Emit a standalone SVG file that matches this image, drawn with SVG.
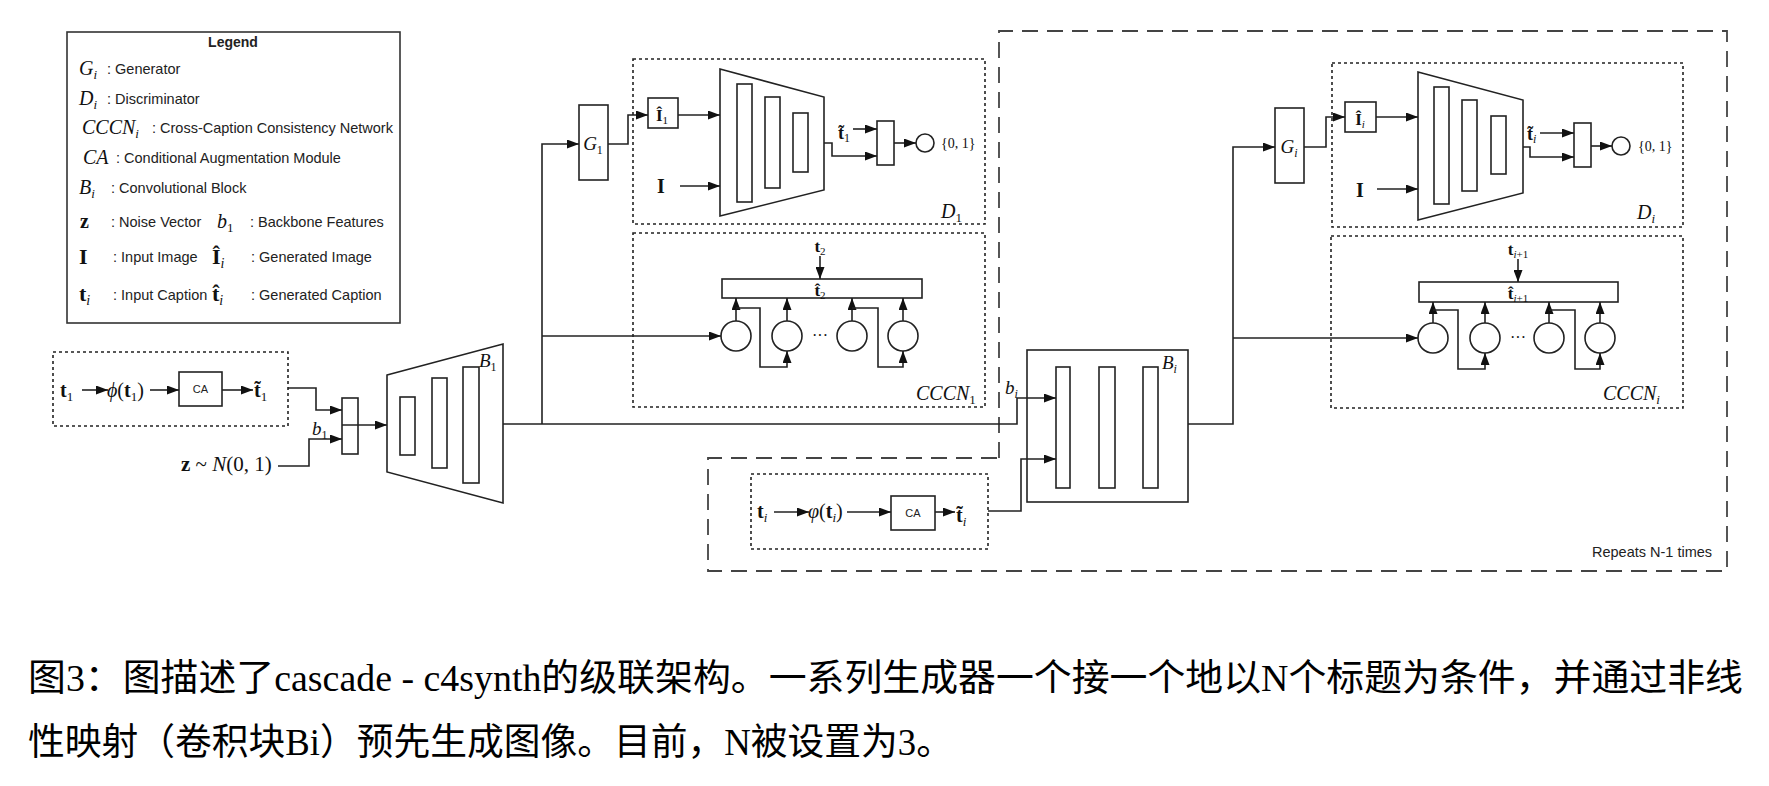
<svg xmlns="http://www.w3.org/2000/svg" width="1769" height="786" viewBox="0 0 1769 786">
<style>
.ln{fill:none;stroke:#222;stroke-width:1.6}
.box{fill:#fff;stroke:#222;stroke-width:1.6}
.dot{fill:none;stroke:#222;stroke-width:1.6;stroke-dasharray:3 3}
.dash{fill:none;stroke:#444;stroke-width:1.8;stroke-dasharray:16 9}
.circ{fill:#fff;stroke:#222;stroke-width:1.6}
.m{font-family:"Liberation Serif","DejaVu Serif",serif;fill:#111}
.it{font-style:italic}
.b{font-weight:bold}
.s{font-family:"Liberation Sans",Arial,sans-serif;fill:#222}
.lg{font-size:14.5px}
.cap{font-family:"Liberation Serif","Noto Sans CJK SC",serif;fill:#000;font-size:37px}
</style>
<defs>
<marker id="ah" viewBox="0 0 12 9" refX="12" refY="4.5" markerWidth="12" markerHeight="9" markerUnits="userSpaceOnUse" orient="auto">
<path d="M0,0 L12,4.5 L0,9 z" fill="#111"/>
</marker>
</defs>
<rect x="0" y="0" width="1769" height="786" fill="#fff"/>

<g id="legend">
<rect x="67" y="32" width="333" height="291" fill="#fff" stroke="#333" stroke-width="1.6"/>
<text class="s b" x="233" y="47" font-size="14" text-anchor="middle" fill="#111">Legend</text>
<text class="m it" x="79" y="75" font-size="20">G<tspan font-size="13" dy="4">i</tspan></text>
<text class="s lg" x="107" y="74">: Generator</text>
<text class="m it" x="79" y="105" font-size="20">D<tspan font-size="13" dy="4">i</tspan></text>
<text class="s lg" x="107" y="104">: Discriminator</text>
<text class="m it" x="82" y="134" font-size="20">CCCN<tspan font-size="13" dy="4">i</tspan></text>
<text class="s lg" x="152" y="133">: Cross-Caption Consistency Network</text>
<text class="m it" x="83" y="164" font-size="20">CA</text>
<text class="s lg" x="116" y="163">: Conditional Augmentation Module</text>
<text class="m it" x="79" y="194" font-size="20">B<tspan font-size="13" dy="4">i</tspan></text>
<text class="s lg" x="111" y="193">: Convolutional Block</text>
<text class="m b" x="80" y="228" font-size="20">z</text>
<text class="s lg" x="111" y="227">: Noise Vector</text>
<text class="m it" x="217" y="228" font-size="20">b<tspan font-style="normal" font-size="13" dy="4">1</tspan></text>
<text class="s lg" x="250" y="227">: Backbone Features</text>
<text class="m b" x="79" y="264" font-size="22">I</text>
<text class="s lg" x="113" y="262">: Input Image</text>
<text class="m b" x="212" y="264" font-size="22">Î<tspan font-weight="normal" font-style="italic" font-size="14" dy="4">i</tspan></text>
<text class="s lg" x="251" y="262">: Generated Image</text>
<text class="m b" x="79" y="301" font-size="22">t<tspan font-weight="normal" font-style="italic" font-size="14" dy="4">i</tspan></text>
<text class="s lg" x="113" y="300">: Input Caption</text>
<text class="m b" x="212" y="301" font-size="22">t&#x302;<tspan font-weight="normal" font-style="italic" font-size="14" dy="4">i</tspan></text>
<text class="s lg" x="251" y="300">: Generated Caption</text>
</g>

<g id="input-t1">
<rect class="dot" x="53" y="352" width="235" height="74"/>
<text class="m b" x="60" y="397" font-size="20">t<tspan font-weight="normal" font-size="13" dy="4">1</tspan></text>
<text class="m" x="107" y="397" font-size="20"><tspan font-style="italic">ϕ</tspan>(<tspan font-weight="bold">t</tspan><tspan font-size="13" dy="4">1</tspan><tspan dy="-4">)</tspan></text>
<rect class="box" x="179" y="372" width="43" height="34"/>
<text class="s" x="200.5" y="393" font-size="11" text-anchor="middle">CA</text>
<text class="m b" x="254" y="397" font-size="20">t&#x303;<tspan font-weight="normal" font-size="13" dy="4">1</tspan></text>
</g>

<g id="noise-z">
<text class="m" x="181" y="471" font-size="21"><tspan font-weight="bold">z</tspan> ~ <tspan font-style="italic">N</tspan>(0, 1)</text>
<text class="m it" x="312" y="435" font-size="19">b<tspan font-style="normal" font-size="12" dy="4">1</tspan></text>
</g>

<g id="concat1">
<rect class="box" x="342" y="398" width="16" height="56"/>
</g>

<g id="B1">
<polygon class="box" points="387,375 503,344 503,503 387,472"/>
<rect class="box" x="400" y="397" width="15" height="58"/>
<rect class="box" x="432" y="378" width="15" height="90"/>
<rect class="box" x="463" y="367" width="16" height="116"/>
<text class="m it" x="479" y="367" font-size="19">B<tspan font-style="normal" font-size="12" dy="4">1</tspan></text>
</g>

<g id="G1">
<rect class="box" x="579" y="105" width="29" height="75"/>
<text class="m it" x="593" y="150" font-size="19" text-anchor="middle">G<tspan font-style="normal" font-size="12" dy="4">1</tspan></text>
</g>

<g id="D1">
<rect class="dot" x="633" y="59" width="352" height="165"/>
<rect class="box" x="648" y="98" width="30" height="30"/>
<text class="m b" x="662" y="121" font-size="17" text-anchor="middle">Î<tspan font-weight="normal" font-size="11" dy="3">1</tspan></text>
<text class="m b" x="657" y="193" font-size="20">I</text>
<polygon class="box" points="720,69 824,97 824,190 720,216"/>
<rect class="box" x="737" y="84" width="15" height="118"/>
<rect class="box" x="765" y="97" width="15" height="91"/>
<rect class="box" x="793" y="113" width="15" height="59"/>
<text class="m b" x="838" y="139" font-size="18">t&#x303;<tspan font-weight="normal" font-size="12" dy="3">1</tspan></text>
<rect class="box" x="877" y="121" width="17" height="44"/>
<circle class="circ" cx="925" cy="143" r="9"/>
<text class="m" x="941" y="148" font-size="14" fill="#444">{0, 1}</text>
<text class="m it" x="941" y="218" font-size="20">D<tspan font-style="normal" font-size="13" dy="4">1</tspan></text>
</g>

<g id="CCCN1">
<rect class="dot" x="633" y="233" width="352" height="174"/>
<text class="m b" x="820" y="252" font-size="17" text-anchor="middle">t<tspan font-weight="normal" font-size="11" dy="3">2</tspan></text>
<rect class="box" x="722" y="279" width="200" height="19"/>
<text class="m b" x="820" y="296" font-size="17" text-anchor="middle">t&#x302;<tspan font-weight="normal" font-size="11" dy="3">2</tspan></text>
<circle class="circ" cx="736" cy="336" r="15"/>
<circle class="circ" cx="787" cy="336" r="15"/>
<circle class="circ" cx="852" cy="336" r="15"/>
<circle class="circ" cx="903" cy="336" r="15"/>
<text class="m" x="820" y="341" font-size="16" text-anchor="middle">···</text>
<text class="m it" x="916" y="400" font-size="20">CCCN<tspan font-style="normal" font-size="13" dy="4">1</tspan></text>
</g>

<g id="repeat-block">
<path class="dash" d="M999,458 L999,31 L1727,31 L1727,571 L708,571 L708,458 Z"/>
<text class="s" x="1592" y="557" font-size="14.5" fill="#333">Repeats N-1 times</text>
</g>

<g id="input-ti">
<rect class="dot" x="751" y="474" width="237" height="75"/>
<text class="m b" x="757" y="518" font-size="20">t<tspan font-weight="normal" font-style="italic" font-size="13" dy="4">i</tspan></text>
<text class="m" x="808" y="518" font-size="20"><tspan font-style="italic">φ</tspan>(<tspan font-weight="bold">t</tspan><tspan font-style="italic" font-size="13" dy="4">i</tspan><tspan dy="-4">)</tspan></text>
<rect class="box" x="891" y="496" width="44" height="34"/>
<text class="s" x="913" y="517" font-size="11" text-anchor="middle">CA</text>
<text class="m b" x="956" y="522" font-size="20">t&#x303;<tspan font-weight="normal" font-style="italic" font-size="13" dy="4">i</tspan></text>
</g>

<g id="Bi">
<rect class="box" x="1027" y="350" width="161" height="152"/>
<rect class="box" x="1056" y="367" width="14" height="121"/>
<rect class="box" x="1099" y="367" width="16" height="121"/>
<rect class="box" x="1143" y="367" width="15" height="121"/>
<text class="m it" x="1162" y="369" font-size="19">B<tspan font-size="12" dy="4">i</tspan></text>
<text class="m it" x="1005" y="394" font-size="19">b<tspan font-size="12" dy="4">i</tspan></text>
</g>

<g id="Gi">
<rect class="box" x="1275" y="108" width="29" height="75"/>
<text class="m it" x="1289" y="153" font-size="19" text-anchor="middle">G<tspan font-size="12" dy="4">i</tspan></text>
</g>

<g id="Di">
<rect class="dot" x="1332" y="63" width="351" height="164"/>
<rect class="box" x="1345" y="102" width="31" height="30"/>
<text class="m b" x="1360" y="125" font-size="17" text-anchor="middle">Î<tspan font-weight="normal" font-style="italic" font-size="11" dy="3">i</tspan></text>
<text class="m b" x="1356" y="197" font-size="20">I</text>
<polygon class="box" points="1418,72 1523,100 1523,193 1418,220"/>
<rect class="box" x="1434" y="87" width="15" height="117"/>
<rect class="box" x="1462" y="100" width="15" height="91"/>
<rect class="box" x="1491" y="116" width="15" height="58"/>
<text class="m b" x="1527" y="140" font-size="18">t&#x303;<tspan font-weight="normal" font-style="italic" font-size="12" dy="3">i</tspan></text>
<rect class="box" x="1574" y="123" width="17" height="44"/>
<circle class="circ" cx="1621" cy="146" r="9"/>
<text class="m" x="1638" y="151" font-size="14" fill="#444">{0, 1}</text>
<text class="m it" x="1637" y="219" font-size="20">D<tspan font-size="13" dy="4">i</tspan></text>
</g>

<g id="CCCNi">
<rect class="dot" x="1331" y="236" width="352" height="172"/>
<text class="m b" x="1518" y="255" font-size="17" text-anchor="middle">t<tspan font-weight="normal" font-size="11" dy="3"><tspan font-style="italic">i</tspan>+1</tspan></text>
<rect class="box" x="1419" y="282" width="199" height="20"/>
<text class="m b" x="1518" y="299" font-size="17" text-anchor="middle">t&#x302;<tspan font-weight="normal" font-size="11" dy="3"><tspan font-style="italic">i</tspan>+1</tspan></text>
<circle class="circ" cx="1433" cy="338" r="15"/>
<circle class="circ" cx="1485" cy="338" r="15"/>
<circle class="circ" cx="1549" cy="338" r="15"/>
<circle class="circ" cx="1600" cy="338" r="15"/>
<text class="m" x="1518" y="343" font-size="16" text-anchor="middle">···</text>
<text class="m it" x="1603" y="400" font-size="20">CCCN<tspan font-size="13" dy="4">i</tspan></text>
</g>

<g id="connectors" class="ln">
<path d="M82,390 L108,390" marker-end="url(#ah)"/>
<path d="M150,390 L179,390" marker-end="url(#ah)"/>
<path d="M222,390 L253,390" marker-end="url(#ah)"/>
<path d="M288,388 L316,388 L316,410 L342,410" marker-end="url(#ah)"/>
<path d="M278,466 L309,466 L309,439 L342,439" marker-end="url(#ah)"/>
<path d="M342,425 L387,425" marker-end="url(#ah)"/>
<path d="M503,424 L1017,424 L1017,398 L1056,398" marker-end="url(#ah)"/>
<path d="M542,424 L542,144 L579,144" marker-end="url(#ah)"/>
<path d="M542,336 L721,336" marker-end="url(#ah)"/>
<path d="M608,144 L628,144 L628,115 L648,115" marker-end="url(#ah)"/>
<path d="M678,115 L720,115" marker-end="url(#ah)"/>
<path d="M680,186 L720,186" marker-end="url(#ah)"/>
<path d="M853,129 L877,129" marker-end="url(#ah)"/>
<path d="M824,143 L832,143 L832,156 L877,156" marker-end="url(#ah)"/>
<path d="M894,143 L916,143" marker-end="url(#ah)"/>
<path d="M820,256 L820,279" marker-end="url(#ah)"/>
<path d="M736,321 L736,298" marker-end="url(#ah)"/>
<path d="M787,321 L787,298" marker-end="url(#ah)"/>
<path d="M852,321 L852,298" marker-end="url(#ah)"/>
<path d="M903,321 L903,298" marker-end="url(#ah)"/>
<path d="M736,308 L760,308 L760,367 L787,367 L787,351" marker-end="url(#ah)"/>
<path d="M852,308 L878,308 L878,367 L903,367 L903,351" marker-end="url(#ah)"/>
<path d="M774,512 L809,512" marker-end="url(#ah)"/>
<path d="M847,512 L891,512" marker-end="url(#ah)"/>
<path d="M935,512 L955,512" marker-end="url(#ah)"/>
<path d="M988,511 L1021,511 L1021,459 L1056,459" marker-end="url(#ah)"/>
<path d="M1188,424 L1233,424 L1233,147 L1275,147" marker-end="url(#ah)"/>
<path d="M1233,338 L1418,338" marker-end="url(#ah)"/>
<path d="M1304,147 L1326,147 L1326,117 L1345,117" marker-end="url(#ah)"/>
<path d="M1376,117 L1418,117" marker-end="url(#ah)"/>
<path d="M1377,189 L1418,189" marker-end="url(#ah)"/>
<path d="M1540,133 L1574,133" marker-end="url(#ah)"/>
<path d="M1523,147 L1530,147 L1530,157 L1574,157" marker-end="url(#ah)"/>
<path d="M1591,146 L1612,146" marker-end="url(#ah)"/>
<path d="M1518,259 L1518,282" marker-end="url(#ah)"/>
<path d="M1433,323 L1433,302" marker-end="url(#ah)"/>
<path d="M1485,323 L1485,302" marker-end="url(#ah)"/>
<path d="M1549,323 L1549,302" marker-end="url(#ah)"/>
<path d="M1600,323 L1600,302" marker-end="url(#ah)"/>
<path d="M1433,310 L1458,310 L1458,369 L1485,369 L1485,353" marker-end="url(#ah)"/>
<path d="M1549,310 L1575,310 L1575,369 L1600,369 L1600,353" marker-end="url(#ah)"/>
</g>

<g id="caption">
<text class="cap" x="28" y="691" textLength="1715" lengthAdjust="spacingAndGlyphs">图3：图描述了cascade - c4synth的级联架构。一系列生成器一个接一个地以N个标题为条件，并通过非线</text>
<text class="cap" x="28" y="755" textLength="925" lengthAdjust="spacingAndGlyphs">性映射（卷积块Bi）预先生成图像。目前，N被设置为3。</text>
</g>
</svg>
